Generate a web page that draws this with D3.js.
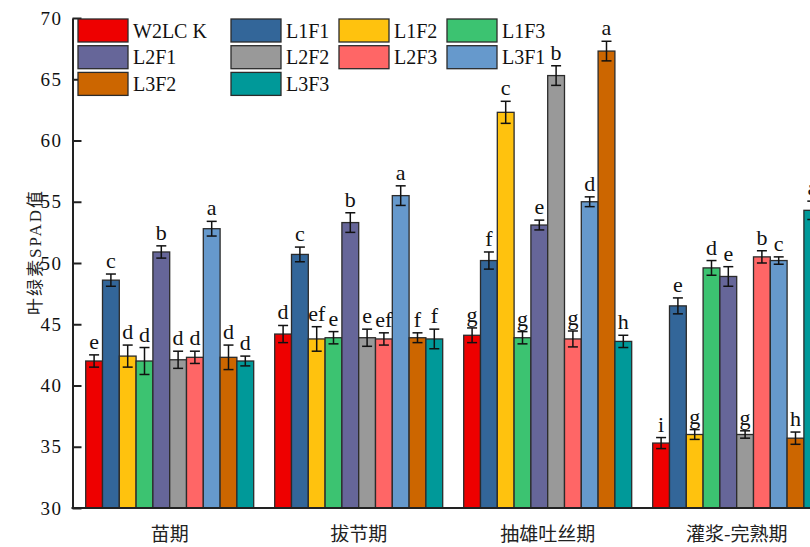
<!DOCTYPE html>
<html>
<head>
<meta charset="utf-8">
<script src="https://cdn.jsdelivr.net/npm/d3@7/dist/d3.min.js"></script>
<style>
  html, body { margin: 0; padding: 0; background: #fff; }
  svg { display: block; }
</style>
</head>
<body>
<svg id="chart" width="810" height="547"></svg>
<script>
// Growth stages (x groups) and treatments (series)
const stages = ["苗期", "拔节期", "抽雄吐丝期", "灌浆-完熟期"];
const treatments = ["W2LCK", "L1F1", "L1F2", "L1F3", "L2F1", "L2F2", "L2F3", "L3F1", "L3F2", "L3F3"];
const legendLabels = ["W2LC K", "L1F1", "L1F2", "L1F3", "L2F1", "L2F2", "L2F3", "L3F1", "L3F2", "L3F3"];
const colors = ["#ee0000", "#336699", "#ffc20e", "#3cc371", "#666699", "#999999", "#ff6666", "#6699cc", "#cc6600", "#009999"];

// Mean SPAD per treatment, one array per stage (treatment order as above)
const spadSeedling = [42.0, 48.6, 42.4, 42.0, 50.9, 42.1, 42.3, 52.8, 42.3, 42.0];
const spadJointing = [44.2, 50.7, 43.8, 43.9, 53.3, 43.9, 43.8, 55.5, 43.9, 43.8];
const spadSilking  = [44.1, 50.2, 62.3, 43.9, 53.1, 65.3, 43.8, 55.0, 67.3, 43.6];
const spadFilling  = [35.3, 46.5, 36.0, 49.6, 48.9, 36.0, 50.5, 50.2, 35.7, 54.3];

// Standard errors
const errSeedling = [0.5, 0.5, 0.9, 1.1, 0.5, 0.7, 0.5, 0.6, 1.0, 0.4];
const errJointing = [0.7, 0.6, 1.0, 0.5, 0.8, 0.7, 0.5, 0.8, 0.4, 0.8];
const errSilking  = [0.6, 0.7, 0.9, 0.5, 0.4, 0.8, 0.65, 0.4, 0.8, 0.5];
const errFilling  = [0.45, 0.65, 0.4, 0.6, 0.8, 0.3, 0.5, 0.3, 0.5, 0.75];

// Significance letters
const sigSeedling = ["e", "c", "d", "d", "b", "d", "d", "a", "d", "d"];
const sigJointing = ["d", "c", "ef", "e", "b", "e", "ef", "a", "f", "f"];
const sigSilking  = ["g", "f", "c", "g", "e", "b", "g", "d", "a", "h"];
const sigFilling  = ["i", "e", "g", "d", "e", "g", "b", "c", "h", "a"];

const yTicks = [30, 35, 40, 45, 50, 55, 60, 65, 70];
const yTitle = "叶绿素SPAD值";

const values = [spadSeedling, spadJointing, spadSilking, spadFilling];
const errors = [errSeedling, errJointing, errSilking, errFilling];
const sigs = [sigSeedling, sigJointing, sigSilking, sigFilling];

const rows = [];
stages.forEach((s, gi) => {
  treatments.forEach((t, ti) => {
    rows.push({ stage: s, treatment: t, ti, value: values[gi][ti], err: errors[gi][ti], sig: sigs[gi][ti] });
  });
});

const svg = d3.select("#chart");
const axisX = 72.5, axisTop = 18, axisBottom = 508;

const y = d3.scaleLinear().domain([30, 70]).range([axisBottom, axisTop]);
const x0 = d3.scalePoint().domain(stages).range([169.7, 736.7]);
const barW = 16.8;
const x1 = d3.scaleBand().domain(treatments).range([-barW * 5, barW * 5]);
const color = d3.scaleOrdinal().domain(treatments).range(colors);

const serif = "'Liberation Serif', 'Times New Roman', serif";
const cjk = "'Noto Sans CJK SC', sans-serif";

// Bars
svg.append("g").selectAll("rect").data(rows).join("rect")
  .attr("x", d => x0(d.stage) + x1(d.treatment))
  .attr("y", d => y(d.value))
  .attr("width", x1.bandwidth())
  .attr("height", d => y(30) - y(d.value))
  .attr("fill", d => color(d.treatment))
  .attr("stroke", "#2b2b2b")
  .attr("stroke-width", 1.3);

// Error bars
const eb = svg.append("g").attr("stroke", "#111").attr("stroke-width", 1.5);
const capW = 10;
rows.forEach(d => {
  const cx = x0(d.stage) + x1(d.treatment) + x1.bandwidth() / 2;
  const hi = y(d.value + d.err), lo = y(d.value - d.err);
  eb.append("line").attr("x1", cx).attr("x2", cx).attr("y1", hi).attr("y2", lo);
  eb.append("line").attr("x1", cx - capW / 2).attr("x2", cx + capW / 2).attr("y1", hi).attr("y2", hi);
  eb.append("line").attr("x1", cx - capW / 2).attr("x2", cx + capW / 2).attr("y1", lo).attr("y2", lo);
});

// Significance letters
svg.append("g").selectAll("text").data(rows).join("text")
  .attr("x", d => x0(d.stage) + x1(d.treatment) + x1.bandwidth() / 2)
  .attr("y", d => y(d.value + d.err) - 6)
  .attr("text-anchor", "middle")
  .attr("font-family", serif)
  .attr("font-size", 22)
  .attr("fill", "#111")
  .text(d => d.sig);

// Y axis: ticks pointing inward
const yAxis = d3.axisLeft(y).tickValues(yTicks).tickSizeInner(-9).tickSizeOuter(0).tickPadding(10);
const gy = svg.append("g").attr("transform", `translate(${axisX},0)`).call(yAxis);
gy.select(".domain").attr("stroke", "#222").attr("stroke-width", 2);
gy.selectAll(".tick line").attr("stroke", "#222").attr("stroke-width", 2);
gy.selectAll(".tick text")
  .attr("font-family", serif).attr("font-size", 19).attr("fill", "#111")
  .attr("letter-spacing", 1.5);

// X axis baseline and stage labels
svg.append("line")
  .attr("x1", axisX - 1).attr("x2", 830)
  .attr("y1", axisBottom).attr("y2", axisBottom)
  .attr("stroke", "#222").attr("stroke-width", 2);

svg.append("g").selectAll("text").data(stages).join("text")
  .attr("x", d => x0(d))
  .attr("y", 541)
  .attr("text-anchor", "middle")
  .attr("font-family", cjk)
  .attr("font-size", 19)
  .attr("fill", "#222")
  .text(d => d);

// Y axis title
svg.append("text")
  .attr("transform", "translate(41,252) rotate(-90)")
  .attr("text-anchor", "middle")
  .attr("font-family", serif + ", " + cjk)
  .attr("font-size", 17)
  .attr("letter-spacing", 2)
  .attr("fill", "#222")
  .text(yTitle);

// Legend: 4 columns, filled row by row
const legCols = [78, 231, 339, 447];
const legRowTop = 19, legRowStep = 26.7, swW = 50, swH = 23;
const leg = svg.append("g");
treatments.forEach((t, i) => {
  const c = i % 4, r = Math.floor(i / 4);
  const lx = legCols[c], ly = legRowTop + r * legRowStep;
  leg.append("rect").attr("x", lx).attr("y", ly).attr("width", swW).attr("height", swH)
    .attr("fill", color(t)).attr("stroke", "#2b2b2b").attr("stroke-width", 1.3);
  leg.append("text").attr("x", lx + swW + 5).attr("y", ly + swH / 2 + 7)
    .attr("font-family", serif).attr("font-size", 20).attr("fill", "#111")
    .text(legendLabels[i]);
});
</script>
</body>
</html>
